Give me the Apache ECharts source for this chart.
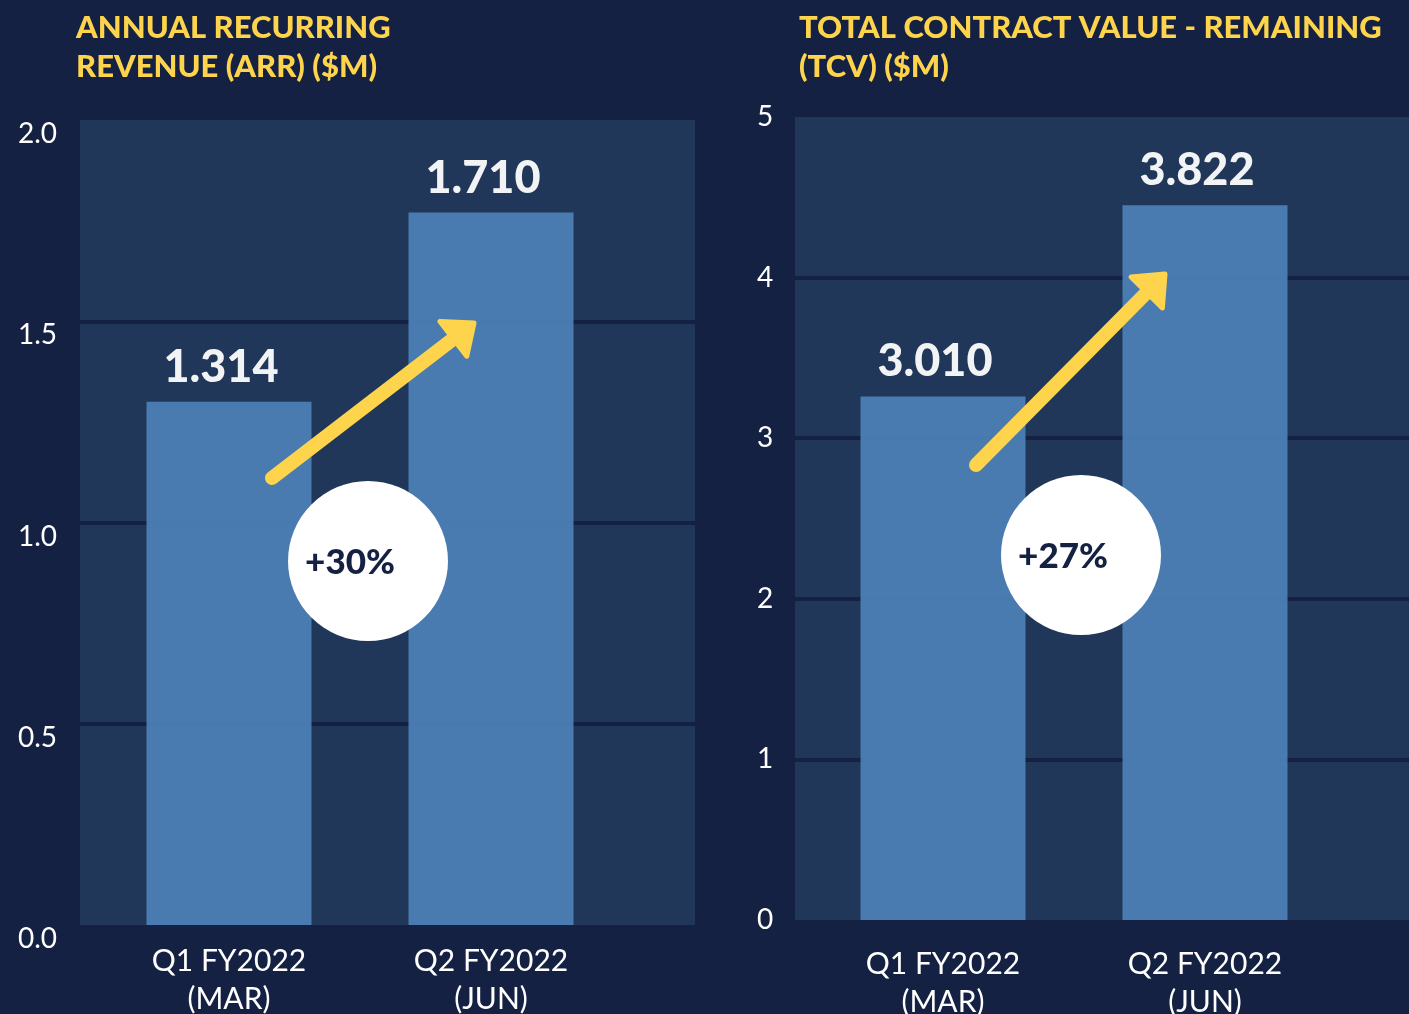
<!DOCTYPE html>
<html>
<head>
<meta charset="utf-8">
<script src="https://cdn.jsdelivr.net/npm/echarts@6/dist/echarts.min.js"></script>
<style>
  html, body { margin: 0; padding: 0; background: #152142; }
  #main { width: 1409px; height: 1014px; }
</style>
</head>
<body>
<div id="main"></div>
<script>
// categories + values (bar heights as drawn, labels as printed)
var categories = ['Q1 FY2022\n(MAR)', 'Q2 FY2022\n(JUN)'];
var arrHeights = [1.30, 1.77];
var arrLabels = ['1.314', '1.710'];
var tcvHeights = [3.26, 4.45];
var tcvLabels = ['3.010', '3.822'];
var growthLabels = ['+30%', '+27%'];
var arrAxis = { min: 0, max: 2, interval: 0.5 };
var tcvAxis = { min: 0, max: 5, interval: 1 };

var yellow = '#fdd44c';
var navy = '#152142';
var font = 'Lato';

function arrow(x1, y1, x2, y2) {
    var dx = x2 - x1, dy = y2 - y1;
    var len = Math.sqrt(dx * dx + dy * dy);
    var ux = dx / len, uy = dy / len;
    var px = -uy, py = ux;
    var L = 26, W = 22;
    var bx = x2 - ux * L, by = y2 - uy * L;
    return [
        {
            type: 'line',
            shape: { x1: x1, y1: y1, x2: bx + ux * 4, y2: by + uy * 4 },
            style: { stroke: yellow, lineWidth: 14, lineCap: 'round' },
            z: 10
        },
        {
            type: 'polygon',
            shape: { points: [[x2, y2], [bx + px * W, by + py * W], [bx - px * W, by - py * W]] },
            style: { fill: yellow, stroke: yellow, lineWidth: 5, lineJoin: 'round' },
            z: 10
        }
    ];
}

function bubble(cx, cy, text) {
    return [
        { type: 'circle', shape: { cx: cx, cy: cy, r: 80 }, style: { fill: '#ffffff' }, z: 11 },
        {
            type: 'text', x: cx - 18, y: cy + 2, z: 12,
            style: {
                text: text, fill: navy, font: '900 35px ' + font,
                textAlign: 'center', textVerticalAlign: 'middle'
            }
        }
    ];
}

function bgY(idx, axis, fmt, margin, vAlign) {
    return {
        gridIndex: idx, type: 'value', min: axis.min, max: axis.max, interval: axis.interval,
        axisLine: { show: false }, axisTick: { show: false },
        axisLabel: {
            color: '#ffffff', fontSize: 28, fontFamily: font, align: 'left', margin: margin,
            verticalAlign: vAlign, formatter: fmt
        },
        splitLine: { show: true, showMinLine: false, showMaxLine: false, lineStyle: { color: navy, width: 4 } }
    };
}

function barX(idx, margin) {
    return {
        gridIndex: idx, type: 'category', data: categories,
        axisLine: { show: false }, axisTick: { show: false },
        axisLabel: { color: '#ffffff', fontSize: 30, lineHeight: 38, fontFamily: font, margin: margin, interval: 0 }
    };
}

function barSeries(idx, heights, labels) {
    return {
        type: 'bar', xAxisIndex: idx, yAxisIndex: idx, data: heights, barWidth: 165,
        itemStyle: { color: '#4c80b6', opacity: 0.94 },
        label: {
            show: true, position: 'top', distance: 12, offset: [-8, 0], color: '#ffffff',
            fontSize: 45, fontWeight: 900, fontFamily: font,
            formatter: function (p) { return labels[p.dataIndex]; }
        }
    };
}

var myChart = echarts.init(document.getElementById('main'));
var option = {
    backgroundColor: navy,
    animation: false,
    title: [
        {
            text: 'ANNUAL RECURRING\nREVENUE (ARR) ($M)', left: 76, top: 8, padding: 0,
            textStyle: { color: yellow, fontSize: 31, fontWeight: 900, fontFamily: font, lineHeight: 39 }
        },
        {
            text: 'TOTAL CONTRACT VALUE - REMAINING\n(TCV) ($M)', left: 799, top: 8, padding: 0,
            textStyle: { color: yellow, fontSize: 31, fontWeight: 900, fontFamily: font, lineHeight: 39 }
        }
    ],
    grid: [
        { left: 80, top: 120, width: 615, height: 805, outerBoundsMode: 'none', show: true, backgroundColor: '#213759', borderWidth: 0 },
        { left: 98, top: 120, width: 524, height: 805, outerBoundsMode: 'none' },
        { left: 795, top: 117, width: 614, height: 803, outerBoundsMode: 'none', show: true, backgroundColor: '#213759', borderWidth: 0 },
        { left: 812, top: 117, width: 524, height: 803, outerBoundsMode: 'none' }
    ],
    xAxis: [
        { gridIndex: 0, type: 'value', show: false },
        barX(1, 17),
        { gridIndex: 2, type: 'value', show: false },
        barX(3, 25)
    ],
    yAxis: [
        bgY(0, arrAxis, function (v) { return v.toFixed(1); }, 62, 'top'),
        { gridIndex: 1, type: 'value', min: arrAxis.min, max: arrAxis.max, show: false },
        bgY(2, tcvAxis, function (v) { return String(v); }, 38, 'middle'),
        { gridIndex: 3, type: 'value', min: tcvAxis.min, max: tcvAxis.max, show: false }
    ],
    series: [
        barSeries(1, arrHeights, arrLabels),
        barSeries(3, tcvHeights, tcvLabels)
    ],
    graphic: [].concat(
        arrow(272, 478, 474, 323),
        arrow(976, 465, 1165, 274),
        bubble(368, 561, growthLabels[0]),
        bubble(1081, 555, growthLabels[1])
    )
};
myChart.setOption(option);
</script>
</body>
</html>
